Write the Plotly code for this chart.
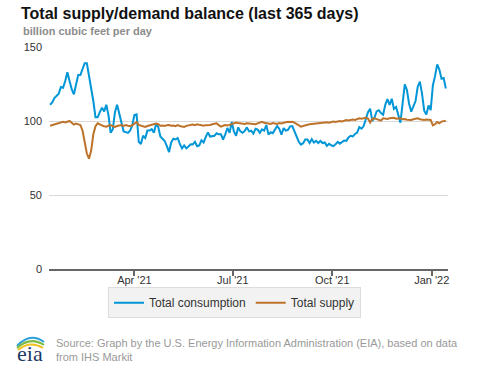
import pandas as pd
import plotly.graph_objects as go

# ---- data (billion cubic feet per day), sampled every 2 days from 2021-01-13 ----
start_date = "2021-01-13"
consumption = [
    111, 112.5, 115.5, 117, 118.5, 123, 122.5, 127, 133, 127,
    121.5, 118, 124, 131, 131, 135, 139, 139, 131, 121,
    113.5, 102.5, 102.5, 106, 109, 106.5, 111, 104, 92, 94.5,
    106, 111, 105, 101, 93, 92.5, 92, 93.5, 97, 104,
    104.5, 86, 84.5, 90, 88.5, 93.5, 93.5, 94.5, 92, 98,
    96, 89.5, 88, 86.5, 83, 79, 85.5, 88, 87.5, 88.5,
    84.5, 81.5, 83.5, 81.5, 82.8, 84.3, 84.2, 86, 83, 83.5,
    87, 85.5, 89.3, 92.3, 89.5, 90, 90, 91.7, 91, 91,
    87.5, 91, 95.3, 92, 99.3, 93, 90, 95.7, 93, 92,
    93.3, 95.7, 93, 93.5, 91.5, 94.7, 94.2, 92, 94.4, 93.5,
    97.3, 90.8, 92.4, 91.8, 94.4, 96.6, 94.6, 90.8, 95.2, 93.5,
    94, 96.4, 96.6, 93.2, 90, 86, 84, 85, 87.5, 87.5,
    85.1, 87.7, 85.5, 86.6, 85.1, 86.5, 85.1, 85.5, 83.2, 84.6,
    83.6, 83, 84.2, 85.9, 84.7, 85.8, 86.8, 86.6, 88.9, 90,
    89.6, 91.2, 92.1, 95.9, 94.8, 96.6, 101, 106, 108.3, 100,
    102.3, 106.5, 107.3, 105.3, 104.2, 110.9, 114.8, 110.8, 115, 108.2,
    109.5, 103.5, 98.9, 111.8, 124.7, 121, 111.7, 106.3, 110.5, 113.5,
    123.2, 126.6, 118.3, 107, 104.3, 110.5, 107.4, 124, 130.3, 138.3,
    134.7, 128.5, 129, 122,
]
supply = [
    96.8, 97.2, 97.8, 98.2, 98.6, 98.9, 99.4, 99.0, 99.6, 100.0,
    98.8, 97.6, 98.2, 97.9, 97.3, 93.5, 85.5, 78, 74.5, 80,
    91, 96.5, 98.4, 97.5, 97.0, 96.5, 96.2, 96.8, 97.3, 96.4,
    96.0, 96.6, 97.0, 97.3, 96.6, 97.2, 96.8, 96.5, 97.1, 98.0,
    99.3, 97.4, 96.8, 96.3, 96.0, 96.6, 96.9, 97.3, 97.6, 98.2,
    97.8, 96.8, 97.0, 96.6, 97.2, 97.3, 96.8, 97.0, 96.5, 97.2,
    96.6, 96.2, 96.0, 96.7, 97.0, 97.3, 97.6, 97.2, 97.8, 97.4,
    96.9, 96.8, 97.2, 97.0, 97.3, 97.8, 98.0, 98.4, 97.2, 96.2,
    96.8, 97.2, 96.9, 97.3, 97.8, 98.4, 98.9, 98.6, 98.3, 98.4,
    98.0, 98.5, 98.3, 98.0, 98.2, 97.8, 98.4, 99.0, 99.5, 98.8,
    98.6, 98.4, 98.0, 98.6, 98.4, 98.0, 98.6, 98.4, 98.8, 99.2,
    99.5, 99.3, 99.5, 98.9, 98.0, 97.0, 96.2, 96.6, 97.3, 97.5,
    97.8, 98.0, 98.3, 98.5, 98.7, 98.9, 98.7, 99.0, 99.2, 98.9,
    99.4, 99.6, 99.3, 99.8, 100.0, 99.7, 100.3, 100.7, 100.4, 100.8,
    101.0, 100.7, 101.2, 101.8, 101.5, 102.0, 102.2, 101.6, 99.0, 101.4,
    101.8, 101.3, 100.8, 100.2, 101.8, 101.5, 101.4, 101.8, 102.0, 102.2,
    101.6, 101.9, 101.8, 101.2, 101.4, 100.9, 100.6, 100.7, 101.2, 101.5,
    101.8, 101.2, 100.8, 100.7, 101.0, 100.6, 100.7, 97.0, 97.8, 99.3,
    98.4, 99.6, 100.0, 100.2,
]
dates = pd.date_range(start_date, periods=len(consumption), freq="2D")

tick_dates = ["2021-04-01", "2021-07-01", "2021-10-01", "2022-01-01"]
tick_labels = ["Apr '21", "Jul '21", "Oct '21", "Jan '22"]
y_ticks = [0, 50, 100, 150]

BLUE = "#0096d7"
ORANGE = "#bd732a"
FONT = "Liberation Sans, Arial, sans-serif"

# the page's body margin is removed (post_script below), so the figure fills the window
W, H = 477, 367
L, R, T, B = 49, 29, 47, 98
PW, PH = W - L - R, H - T - B


def px(x):
    """window pixel x -> paper coordinate"""
    return (x - L) / PW


def py(y):
    """window pixel y -> paper coordinate"""
    return (H - B - y) / PH


fig = go.Figure()
fig.add_trace(go.Scatter(x=dates, y=consumption, mode="lines", name="Total consumption",
                         line=dict(color=BLUE, width=2)))
fig.add_trace(go.Scatter(x=dates, y=supply, mode="lines", name="Total supply",
                         line=dict(color=ORANGE, width=2)))

annotations = [
    dict(text="<b>Total supply/demand balance (last 365 days)</b>", x=px(19), y=py(13.5),
         xanchor="left", yanchor="middle", font=dict(size=16, color="#111", family=FONT)),
    dict(text="<b>billion cubic feet per day</b>", x=px(21), y=py(31),
         xanchor="left", yanchor="middle", font=dict(size=11, color="#8c8c8c", family=FONT)),
    dict(text="Source: Graph by the U.S. Energy Information Administration (EIA), based on data",
         x=px(54), y=py(343), xanchor="left", yanchor="middle",
         font=dict(size=11, color="#999999", family=FONT)),
    dict(text="from IHS Markit", x=px(54), y=py(357), xanchor="left", yanchor="middle",
         font=dict(size=11, color="#999999", family=FONT)),
    dict(text="eia", x=px(30), y=py(354), xanchor="center", yanchor="middle",
         font=dict(size=22, color="#1c3a66", family="Liberation Serif, DejaVu Serif, serif")),
]
for a in annotations:
    a.update(xref="paper", yref="paper", showarrow=False)


def arc(x0, y0, cx, cy, x1, y1):
    return f"M {px(x0)},{py(y0)} Q {px(cx)},{py(cy)} {px(x1)},{py(y1)}"


shapes = [
    dict(type="path", xref="paper", yref="paper", path=arc(17, 346, 30, 332, 44, 342),
         line=dict(color="#2a9fd8", width=2)),
    dict(type="path", xref="paper", yref="paper", path=arc(17, 348, 30, 336, 44, 345),
         line=dict(color="#7dbb42", width=2)),
    dict(type="path", xref="paper", yref="paper", path=arc(18, 350, 30, 340, 43, 348),
         line=dict(color="#f2c01e", width=2)),
]

fig.update_layout(
    width=W, height=H,
    margin=dict(l=L, r=R, t=T, b=B, pad=0),
    paper_bgcolor="white", plot_bgcolor="white",
    font=dict(family=FONT, size=11, color="#333"),
    showlegend=True,
    legend=dict(orientation="h", x=px(234.5), y=py(302.7), xanchor="center", yanchor="middle",
                bgcolor="#f2f2f2", bordercolor="#dcdcdc", borderwidth=1,
                font=dict(size=12, color="#333", family=FONT), itemwidth=30),
    annotations=annotations,
    shapes=shapes,
    xaxis=dict(range=["2021-01-12", "2022-01-16"], tickvals=tick_dates, ticktext=tick_labels,
               showgrid=False, zeroline=False, showline=True, linecolor="#666", linewidth=1.5,
               ticks="outside", ticklen=5, tickcolor="#666", tickwidth=1.5,
               tickfont=dict(size=11, color="#333"), ticklabelstandoff=-5),
    yaxis=dict(range=[0, 150], tickvals=y_ticks, showgrid=True, gridcolor="#d9d9d9", gridwidth=1,
               zeroline=False, showline=False, ticks="", tickfont=dict(size=11, color="#333"),
               ticklabelstandoff=6),
)

fig.write_html("out.html",
               config={"displayModeBar": False},
               post_script="document.body.style.margin='0';document.body.style.overflow='hidden';")
